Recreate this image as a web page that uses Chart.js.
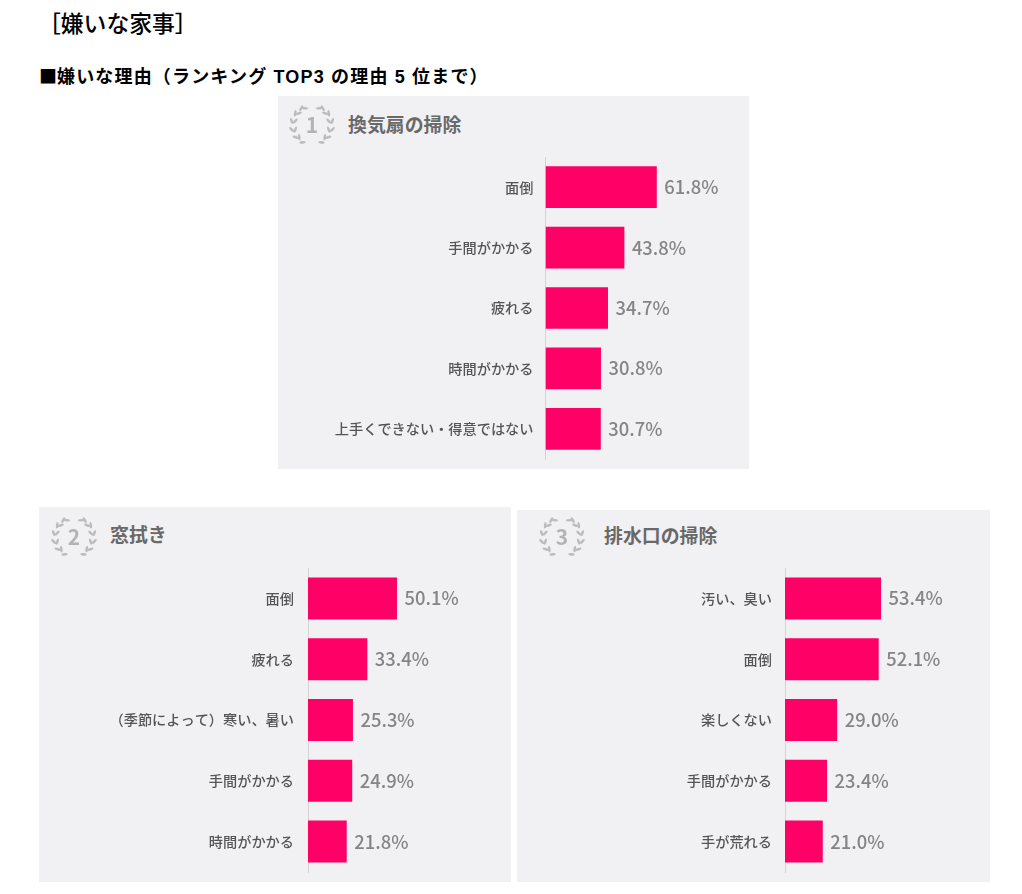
<!DOCTYPE html>
<html lang="ja">
<head>
    <meta charset="UTF-8">
    <title>嫌いな家事</title>
    <script src="https://cdn.jsdelivr.net/npm/chart.js"></script>
    <style>
        html, body {
            margin: 0;
            padding: 0;
            background: #fff;
        }
        body {
            position: relative;
            width: 1022px;
            height: 894px;
            overflow: hidden;
            font-family: "Noto Sans CJK JP", sans-serif;
        }
        .head {
            position: absolute;
            white-space: nowrap;
            color: #000;
            line-height: 1;
        }
        #head1 { left: 38px; top: 12px; font-size: 22.8px; font-family: "Noto Sans CJK JP Medium", "Noto Sans CJK JP", sans-serif; font-weight: 500; }
        #head2 { left: 39px; top: 66px; font-size: 18px; font-weight: 700; letter-spacing: 1.17px; font-family: "Liberation Sans", "Noto Sans CJK JP", sans-serif; }
        #head2 span { font-family: "Noto Sans CJK JP", sans-serif; letter-spacing: 0; }
        .panel {
            position: absolute;
            background: #f1f0f3;
        }
        .panel canvas {
            position: absolute;
            left: 0;
            top: 0;
        }
        .panel h2 {
            position: absolute;
            margin: 0;
            font-size: 18.9px;
            line-height: 1;
            font-weight: 700;
            color: #696969;
            white-space: nowrap;
        }
        .panel svg {
            position: absolute;
        }
    </style>
</head>
<body>
    <div class="head" id="head1">［嫌いな家事］</div>
    <div class="head" id="head2"><span>■</span>嫌いな理由（ランキング TOP3 の理由 5 位まで）</div>

    <div class="panel" id="panel1" style="left:278px;top:96px;width:471px;height:373px">
        <h2 style="left:70px;top:19px">換気扇の掃除</h2>
        <canvas id="chart1" width="471" height="373"></canvas>
    </div>
    <div class="panel" id="panel2" style="left:39px;top:507px;width:472px;height:375px">
        <h2 style="left:71px;top:18px">窓拭き</h2>
        <canvas id="chart2" width="472" height="375"></canvas>
    </div>
    <div class="panel" id="panel3" style="left:517px;top:510px;width:473px;height:372px">
        <h2 style="left:87px;top:16px">排水口の掃除</h2>
        <canvas id="chart3" width="473" height="372"></canvas>
    </div>

    <script>
        const labels1 = ['面倒', '手間がかかる', '疲れる', '時間がかかる', '上手くできない・得意ではない'];
        const values1 = [61.8, 43.8, 34.7, 30.8, 30.7];

        const labels2 = ['面倒', '疲れる', '（季節によって）寒い、暑い', '手間がかかる', '時間がかかる'];
        const values2 = [50.1, 33.4, 25.3, 24.9, 21.8];

        const labels3 = ['汚い、臭い', '面倒', '楽しくない', '手間がかかる', '手が荒れる'];
        const values3 = [53.4, 52.1, 29.0, 23.4, 21.0];

        const BAR_COLOR = '#ff0066';
        const FONT = '"Noto Sans CJK JP Medium", "Noto Sans CJK JP", sans-serif';

        // writes "61.8%" just past the end of each bar
        const valueLabels = {
            id: 'valueLabels',
            afterDatasetsDraw(chart) {
                const ctx = chart.ctx;
                const meta = chart.getDatasetMeta(0);
                ctx.save();
                ctx.font = '500 18.4px ' + FONT;
                ctx.fillStyle = '#858585';
                ctx.textAlign = 'left';
                ctx.textBaseline = 'middle';
                meta.data.forEach((bar, i) => {
                    const v = chart.data.datasets[0].data[i];
                    ctx.fillText(v.toFixed(1) + '%', bar.x + 7.5, bar.y);
                });
                ctx.restore();
            }
        };

        function makeChart(id, labels, values, axisLeft, top, bottom, xMax, labelGap) {
            const canvas = document.getElementById(id);
            const height = canvas.height;

            return new Chart(canvas, {
                type: 'bar',
                data: {
                    labels: labels,
                    datasets: [{
                        data: values,
                        backgroundColor: BAR_COLOR,
                        borderWidth: 0,
                        categoryPercentage: 1,
                        barPercentage: 0.69
                    }]
                },
                options: {
                    indexAxis: 'y',
                    responsive: false,
                    maintainAspectRatio: false,
                    animation: false,
                    devicePixelRatio: 1,
                    layout: { padding: { top: top, bottom: height - bottom, left: 0, right: 0 } },
                    plugins: { legend: { display: false }, tooltip: { enabled: false } },
                    scales: {
                        x: { display: false, min: 0, max: xMax },
                        y: {
                            // fixed label column, and no extra room for half a label at the ends
                            afterFit(scale) {
                                scale.width = axisLeft;
                                scale.paddingTop = 0;
                                scale.paddingBottom = 0;
                            },
                            grid: { display: false, drawTicks: false },
                            border: { color: '#d4d3d6', width: 1 },
                            ticks: {
                                autoSkip: false,
                                padding: labelGap,
                                color: '#555555',
                                font: { family: FONT, size: 14.2, weight: '500' }
                            }
                        }
                    }
                },
                plugins: [valueLabels]
            });
        }

        // laurel wreath with the rank number in the middle
        function addBadge(panelId, rank, cx, cy) {
            const NS = 'http://www.w3.org/2000/svg';
            const svg = document.createElementNS(NS, 'svg');
            svg.setAttribute('width', 50);
            svg.setAttribute('height', 46);
            svg.setAttribute('viewBox', '-25 -23 50 46');
            svg.style.left = (cx - 25) + 'px';
            svg.style.top = (cy - 23) + 'px';

            [-1, 1].forEach(side => {
                [-62, -38, -12, 14, 40, 66].forEach((deg, i) => {
                    const a = deg * Math.PI / 180;
                    const r = 19;
                    const x = side * r * Math.cos(a);
                    const y = r * Math.sin(a);
                    [-1, 1].forEach(pair => {
                        if (i === 5 && pair === -1) return;
                        const leaf = document.createElementNS(NS, 'ellipse');
                        const tilt = side * (deg + 90 + pair * 32);
                        leaf.setAttribute('cx', x + side * pair * 1.8);
                        leaf.setAttribute('cy', y);
                        leaf.setAttribute('rx', 3.2);
                        leaf.setAttribute('ry', 1.3);
                        leaf.setAttribute('fill', '#bcbcbc');
                        leaf.setAttribute('transform', `rotate(${tilt} ${x + side * pair * 1.8} ${y})`);
                        svg.appendChild(leaf);
                    });
                });
            });

            const num = document.createElementNS(NS, 'text');
            num.textContent = rank;
            num.setAttribute('x', 0);
            num.setAttribute('y', 7.5);
            num.setAttribute('text-anchor', 'middle');
            num.setAttribute('font-size', 21);
            num.setAttribute('font-weight', 700);
            num.setAttribute('font-family', '"Noto Sans CJK JP", sans-serif');
            num.setAttribute('fill', '#b3b3b3');
            svg.appendChild(num);

            document.getElementById(panelId).appendChild(svg);
        }

        makeChart('chart1', labels1, values1, 267.5, 61, 363, 113, 12);
        makeChart('chart2', labels2, values2, 269, 61, 365, 114.3, 14);
        makeChart('chart3', labels3, values3, 268, 58, 362, 114, 13);

        addBadge('panel1', 1, 34, 29);
        addBadge('panel2', 2, 35, 30);
        addBadge('panel3', 3, 45, 27);
    </script>
</body>
</html>
